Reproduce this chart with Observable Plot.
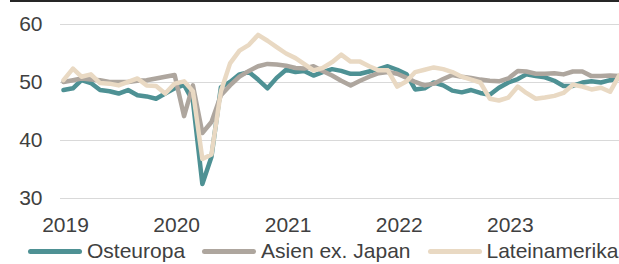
<!DOCTYPE html>
<html>
<head>
<meta charset="utf-8">
<script src="https://cdn.jsdelivr.net/npm/d3@7"></script>
<script src="https://cdn.jsdelivr.net/npm/@observablehq/plot@0.6"></script>
<style>
  body { margin: 0; background: #fff; font-family: "Liberation Sans", Arial, sans-serif; overflow: hidden; }
  #topline { margin-left: 10px; width: 609px; border-top: 2px solid #262626; }
  #chart svg { display: block; }
  #legend { display: flex; align-items: center; height: 24px; padding-top: 1px; margin-left: 28px; font-size: 21px; line-height: 24px; color: #404040; white-space: nowrap; }
  .item { display: flex; align-items: center; margin-right: 17px; }
  .sw { display: inline-block; width: 54px; height: 5px; border-radius: 3px; margin-right: 5px; }
</style>
</head>
<body>
<div id="topline"></div>
<div id="chart"></div>
<div id="legend"></div>
<script>
const series = ["Osteuropa", "Asien ex. Japan", "Lateinamerika"];
const colors = ["#4e9194", "#aea69e", "#e9d9c3"];
const startMonth = [2019, 0];
const yTicks = [30, 40, 50, 60];
const yearTicks = [2019, 2020, 2021, 2022, 2023];

const osteuropa = [48.7,49.0,50.4,49.9,48.7,48.5,48.1,48.7,47.8,47.6,47.2,48.1,
  49.0,49.6,46.8,32.5,37.2,49.2,50.1,51.4,51.8,50.5,49.0,50.8,
  52.2,51.8,52.0,51.2,51.8,52.3,52.0,51.5,51.5,51.9,52.3,52.8,
  52.2,51.4,48.8,49.0,50.0,49.5,48.6,48.3,48.7,48.2,47.9,49.1,
  50.0,50.6,51.4,51.1,50.9,50.3,49.4,49.4,50.0,50.2,50.0,50.4,50.7];
const asien = [50.1,50.4,50.7,50.5,50.4,50.1,50.1,50.1,50.3,50.4,50.7,51.0,
  51.3,44.2,49.5,41.3,43.2,47.8,49.5,51.0,52.0,52.8,53.2,53.1,
  52.9,52.5,52.4,52.8,52.0,51.2,50.3,49.5,50.3,51.0,51.6,51.8,
  51.5,50.8,50.1,49.5,49.8,50.6,51.3,51.0,50.8,50.5,50.3,50.2,
  50.7,52.0,51.9,51.5,51.5,51.6,51.4,51.9,51.9,51.1,51.1,51.2,51.1];
const lateinamerika = [50.4,52.4,51.0,51.4,49.9,49.8,49.5,50.1,50.7,49.5,49.4,48.1,
  49.8,50.2,48.5,36.8,37.6,48.5,53.3,55.5,56.5,58.2,57.2,56.1,
  55.0,54.2,53.2,52.1,52.5,53.5,54.8,53.6,53.6,52.8,52.1,52.1,
  49.3,50.2,51.8,52.2,52.6,52.3,51.8,51.0,50.5,50.0,47.2,46.9,
  47.4,49.3,48.2,47.2,47.4,47.7,48.2,49.6,49.3,48.8,49.1,48.4,51.3];

const values = [osteuropa, asien, lateinamerika];
const rows = [];
values.forEach((arr, s) => arr.forEach((v, i) => {
  rows.push({series: series[s], date: new Date(Date.UTC(startMonth[0], startMonth[1] + i, 1)), value: v});
}));
const lastDate = new Date(Date.UTC(startMonth[0], startMonth[1] + osteuropa.length - 1, 1));
const yearDates = yearTicks.map(y => new Date(Date.UTC(y, 0, 1)));

const chart = Plot.plot({
  width: 619,
  height: 236,
  marginLeft: 60,
  marginRight: 0,
  marginTop: 22,
  marginBottom: 40,
  insetLeft: 3,
  style: {fontFamily: "'Liberation Sans', Arial, sans-serif", fontSize: "21px", color: "#404040", background: "#fff", overflow: "visible"},
  x: {type: "utc", domain: [rows[0].date, lastDate], label: null},
  y: {domain: [30, 60], label: null},
  color: {domain: series, range: colors},
  marks: [
    Plot.gridY(yTicks, {stroke: "#d9d9d9", strokeOpacity: 1, strokeWidth: 1}),
    Plot.axisY(yTicks, {tickSize: 0, tickPadding: 18, fill: "#404040", fontSize: 21}),
    Plot.axisX(yearDates, {tickSize: 0, tickPadding: 19, dx: 2, fill: "#404040", fontSize: 21, tickFormat: d3.utcFormat("%Y")}),
    Plot.line(rows, {x: "date", y: "value", z: "series", stroke: "series", strokeWidth: 4.5})
  ]
});
document.getElementById("chart").appendChild(chart);

const legend = document.getElementById("legend");
series.forEach((s, i) => {
  const it = document.createElement("div");
  it.className = "item";
  const sw = document.createElement("span");
  sw.className = "sw";
  sw.style.background = colors[i];
  const t = document.createElement("span");
  t.textContent = s;
  it.appendChild(sw);
  it.appendChild(t);
  legend.appendChild(it);
});
</script>
</body>
</html>
